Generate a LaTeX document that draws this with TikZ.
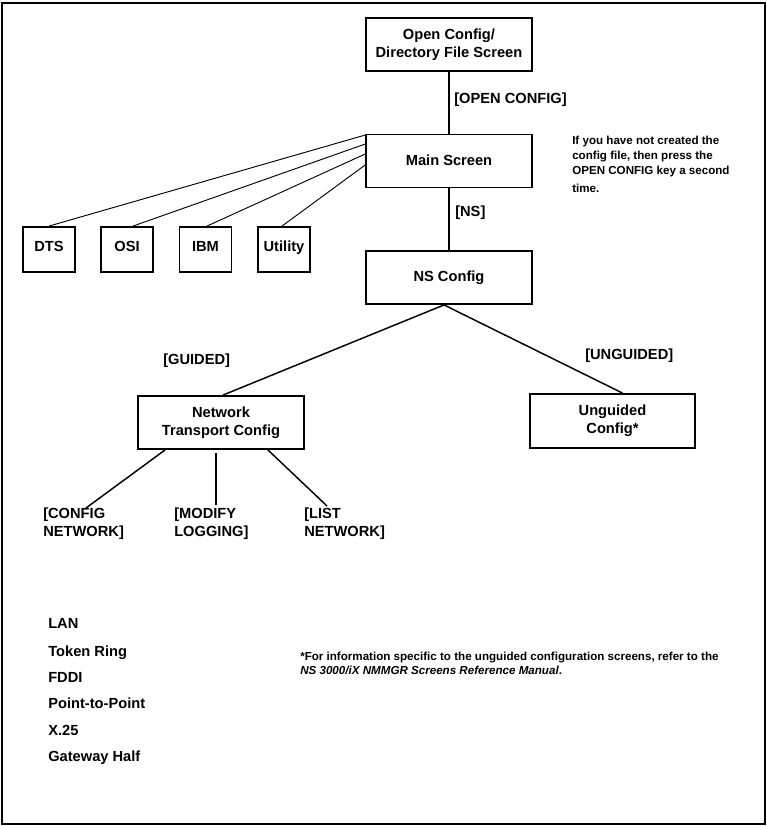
\documentclass[tikz,border=0pt]{standalone}
\usepackage{fontspec}
\setmainfont{Liberation Sans}
\usetikzlibrary{calc}
\begin{document}
\begin{tikzpicture}[x=0.75pt,y=-0.75pt,
  box/.style={draw,line width=1.4pt,minimum width=124.5pt,minimum height=39.75pt,inner sep=0pt,align=center,font=\fontsize{11}{13.5}\selectfont\bfseries},
  onebox/.style={box,text height=8pt,text depth=1.5pt},
  sbox/.style={draw,line width=1.4pt,minimum width=39pt,minimum height=33.75pt,inner sep=0pt,text height=8pt,text depth=4.5pt,font=\fontsize{11}{13.5}\selectfont\bfseries},
  lbl/.style={inner sep=0pt,align=left,font=\fontsize{11}{13.5}\selectfont\bfseries},
  item/.style={inner sep=0pt,anchor=base west,font=\fontsize{11}{13.5}\selectfont\bfseries},
  conn/.style={line width=1.1pt},
  thin/.style={line width=0.7pt}]
\useasboundingbox (0,0) rectangle (767,826);
\draw[line width=1.5pt] (2,2.5) rectangle (765,823.5);
% boxes
\node[box] (open) at (449,44.5) {Open Config/\\Directory File Screen};
\node[onebox] (main) at (449,161) {Main Screen};
\node[onebox] (ns) at (449,277.5) {NS Config};
\node[sbox] (dts) at (49,249.5) {DTS};
\node[sbox] (osi) at (127,249.5) {OSI};
\node[sbox] (ibm) at (205.5,249.5) {IBM};
\node[sbox] (util) at (284,249.5) {Utility};
\node[box] (ntc) at (221,422.5) {Network\\Transport Config};
\node[box,minimum width=123.75pt,minimum height=40.5pt] (ung) at (612.5,421) {Unguided\\Config*};
% labels
\node[lbl,anchor=west] (lopen) at (454,100) {[OPEN CONFIG]};
\node[lbl,anchor=west] (lns) at (455,213) {[NS]};
\node[lbl,anchor=west] (lguided) at (163,361) {[GUIDED]};
\node[lbl,anchor=west] (lunguided) at (585,356) {[UNGUIDED]};
\node[lbl,anchor=north west] (cfg) at (43,508) {[CONFIG\\NETWORK]};
\node[lbl,anchor=north west] (mod) at (174,508) {[MODIFY\\LOGGING]};
\node[lbl,anchor=north west] (lst) at (304,508) {[LIST\\NETWORK]};
\node[inner sep=0pt,anchor=north west,align=left,font=\fontsize{8.7}{11.25}\selectfont\bfseries] (note) at (572,136)
  {If you have not created the\\config file, then press the\\OPEN CONFIG key a second\\[2pt]time.};
\node[inner sep=0pt,anchor=north west,align=left,font=\fontsize{8.7}{10.5}\selectfont\bfseries] (foot) at (300,652)
  {*For information specific to the unguided configuration screens, refer to the\\\textit{NS 3000/iX NMMGR Screens Reference Manual}.};
% list
\node[item] (lan) at (48,628) {LAN};
\node[item] (tok) at (48,656) {Token Ring};
\node[item] (fddi) at (48,682) {FDDI};
\node[item] (p2p) at (48,708) {Point-to-Point};
\node[item] (x25) at (48,735) {X.25};
\node[item] (gw) at (48,761) {Gateway Half};
% connectors
\draw[conn] (open.south) -- (main.north);
\draw[conn] (main.south) -- (ns.north);
\draw[thin] ($(main.north west)+(0,1.5)$) -- (dts.north);
\draw[thin] ($(main.north west)+(0,10.5)$) -- ($(osi.north)+(6,0)$);
\draw[thin] ($(main.north west)+(0,20.5)$) -- ($(ibm.north)+(1.5,0)$);
\draw[thin] ($(main.north west)+(0,31.5)$) -- ($(util.north)+(-2,0)$);
\draw[conn] ($(ns.south)+(-5,0)$) -- ($(ntc.north)+(2,0)$);
\draw[conn] ($(ns.south)+(-5,0)$) -- ($(ung.north)+(10,0)$);
\draw[conn] ($(ntc.south west)+(28,0)$) -- ($(cfg.north west)+(43,0)$);
\draw[conn] ($(ntc.south)+(-5,3)$) -- ($(mod.north west)+(42,-3)$);
\draw[conn] ($(ntc.south east)+(-37,0)$) -- ($(lst.north west)+(23,-2)$);
\end{tikzpicture}
\end{document}
